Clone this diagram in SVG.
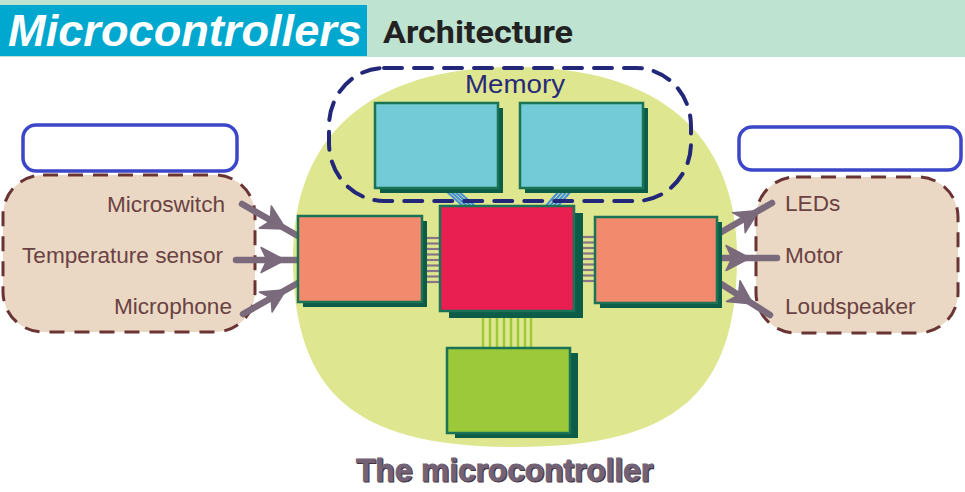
<svg xmlns="http://www.w3.org/2000/svg" width="965" height="492" viewBox="0 0 965 492">
<style>
.lbl{font-family:"Liberation Sans",Arial,sans-serif;font-size:22.6px;fill:#6a4242}
.panel{fill:#ead8c5;stroke:#6b3434;stroke-width:3;stroke-dasharray:15 10}
.blue{fill:#ffffff;stroke:#3c46c8;stroke-width:3.5}
.shadow{fill:#0d5c47}
.face{stroke:#1b7355;stroke-width:2.5}
.arr{stroke:#7a6a7c;stroke-width:6.5;stroke-linecap:round;fill:none}
.head{fill:#7a6a7c;stroke:#7a6a7c;stroke-width:1.5;stroke-linejoin:round}
.pin{stroke:#857585;stroke-width:2.2}
.gpin{stroke:#9cc93a;stroke-width:2.5}
.wire{stroke:#3f8fdc;stroke-width:2}
</style>
<rect width="965" height="492" fill="#ffffff"/>
<g id="header">
<rect x="0" y="0" width="965" height="57" fill="#bee3d1"/>
<rect x="0" y="5" width="367" height="51" fill="#00a8cf"/>
<text x="8" y="46" font-family="Liberation Sans, Arial, sans-serif" font-weight="bold" font-style="italic" font-size="45" fill="#ffffff" textLength="354" lengthAdjust="spacingAndGlyphs">Microcontrollers</text>
<text x="383" y="43" font-family="Roboto, Liberation Sans, sans-serif" font-weight="bold" font-size="31" fill="#222222" textLength="190" lengthAdjust="spacingAndGlyphs">Architecture</text>
</g>
<g id="body">
<path d="M737 257 C737 394 675 447 515 447 C355 447 293 394 293 257 C293 135 370 67 515 67 C660 67 737 135 737 257 Z" fill="#dfe690"/>
</g>
<g id="inputs">
<rect x="23" y="125" width="214" height="46" rx="13" class="blue"/>
<rect x="3" y="175" width="252" height="157" rx="40" class="panel"/>
<text x="225" y="212" text-anchor="end" class="lbl">Microswitch</text>
<text x="223" y="263" text-anchor="end" class="lbl">Temperature sensor</text>
<text x="232" y="314" text-anchor="end" class="lbl">Microphone</text>
</g>
<g id="outputs">
<rect x="739" y="127" width="222" height="43" rx="13" class="blue"/>
<rect x="756" y="177" width="202" height="156" rx="40" class="panel"/>
<text x="785" y="211" class="lbl">LEDs</text>
<text x="785" y="263" class="lbl">Motor</text>
<text x="785" y="314" class="lbl">Loudspeaker</text>
</g>
<g id="connectors">
<line x1="242" y1="204" x2="298" y2="236" class="arr"/>
<polygon points="286,229.1 259.3,228.2 270.2,221.2 271.3,205.9" class="head"/>
<line x1="236" y1="260" x2="298" y2="260" class="arr"/>
<polygon points="285,260 261,247.5 267,260 261,272.5" class="head"/>
<line x1="243" y1="314" x2="298" y2="283" class="arr"/>
<polygon points="286,289.8 272.1,312 271.2,298.2 259.4,292" class="head"/>
<line x1="718" y1="234" x2="772" y2="203" class="arr"/>
<polygon points="759,210.5 745.2,232.6 744.3,219 732.5,212.7" class="head"/>
<line x1="718" y1="258" x2="777" y2="258" class="arr"/>
<polygon points="750,258 726,245.5 732,258 726,270.5" class="head"/>
<line x1="718" y1="282" x2="770" y2="315" class="arr"/>
<polygon points="753,304 726.4,301.6 738.5,295 740,280.7" class="head"/>
<g class="pin">
<line x1="426" y1="238" x2="441" y2="238"/><line x1="426" y1="243.5" x2="441" y2="243.5"/><line x1="426" y1="249" x2="441" y2="249"/><line x1="426" y1="254.5" x2="441" y2="254.5"/><line x1="426" y1="260" x2="441" y2="260"/><line x1="426" y1="265.5" x2="441" y2="265.5"/><line x1="426" y1="271" x2="441" y2="271"/><line x1="426" y1="276.5" x2="441" y2="276.5"/><line x1="426" y1="282" x2="441" y2="282"/>
<line x1="582" y1="237" x2="597" y2="237"/><line x1="582" y1="242.5" x2="597" y2="242.5"/><line x1="582" y1="248" x2="597" y2="248"/><line x1="582" y1="253.5" x2="597" y2="253.5"/><line x1="582" y1="259" x2="597" y2="259"/><line x1="582" y1="264.5" x2="597" y2="264.5"/><line x1="582" y1="270" x2="597" y2="270"/><line x1="582" y1="275.5" x2="597" y2="275.5"/><line x1="582" y1="281" x2="597" y2="281"/>
</g>
<g class="gpin">
<line x1="483" y1="316" x2="483" y2="349"/><line x1="490" y1="316" x2="490" y2="349"/><line x1="497" y1="316" x2="497" y2="349"/><line x1="504" y1="316" x2="504" y2="349"/><line x1="511" y1="316" x2="511" y2="349"/><line x1="518" y1="316" x2="518" y2="349"/><line x1="525" y1="316" x2="525" y2="349"/><line x1="531" y1="316" x2="531" y2="349"/>
</g>
<g class="wire">
<line x1="445" y1="190" x2="464" y2="207"/><line x1="449" y1="190" x2="468" y2="207"/><line x1="453" y1="190" x2="472" y2="207"/><line x1="457" y1="190" x2="476" y2="207"/>
<line x1="560" y1="190" x2="545" y2="207"/><line x1="564" y1="190" x2="549" y2="207"/><line x1="568" y1="190" x2="553" y2="207"/><line x1="572" y1="190" x2="557" y2="207"/>
</g>
</g>
<g id="memory">
<rect x="329" y="68" width="362" height="133" rx="55" ry="58" fill="none" stroke="#232779" stroke-width="4" stroke-dasharray="18 12" stroke-linecap="round"/>
<text x="465" y="93" font-family="Liberation Sans, Arial, sans-serif" font-size="25" fill="#262a78" textLength="100" lengthAdjust="spacingAndGlyphs">Memory</text>
</g>
<g id="memory-left">
<rect x="380" y="108" width="123" height="85" class="shadow"/>
<rect x="375" y="103" width="123" height="85" fill="#72cbd6" class="face"/>
</g>
<g id="memory-right">
<rect x="525" y="108" width="123" height="85" class="shadow"/>
<rect x="520" y="103" width="123" height="85" fill="#72cbd6" class="face"/>
</g>
<g id="input-port">
<rect x="303" y="221" width="124" height="86" class="shadow"/>
<rect x="298" y="216" width="124" height="86" fill="#f28b6e" class="face"/>
</g>
<g id="cpu">
<rect x="449" y="213" width="134" height="105" class="shadow"/>
<rect x="440" y="206" width="134" height="105" fill="#e91e51" class="face"/>
</g>
<g id="output-port">
<rect x="600" y="222" width="122" height="86" class="shadow"/>
<rect x="595" y="217" width="122" height="86" fill="#f28b6e" class="face"/>
</g>
<g id="timer">
<rect x="455" y="353" width="123" height="85" class="shadow"/>
<rect x="447" y="348" width="123" height="85" fill="#9bc93a" class="face"/>
</g>
<g id="caption">
<text x="357" y="482" font-family="Liberation Sans, Arial, sans-serif" font-weight="bold" font-size="31.5" fill="#3f3340" stroke="#3f3340" stroke-width="1" textLength="297" lengthAdjust="spacingAndGlyphs">The microcontroller</text>
<text x="356" y="481" font-family="Liberation Sans, Arial, sans-serif" font-weight="bold" font-size="31.5" fill="#736275" stroke="#736275" stroke-width="0.8" textLength="297" lengthAdjust="spacingAndGlyphs">The microcontroller</text>
</g>
</svg>
